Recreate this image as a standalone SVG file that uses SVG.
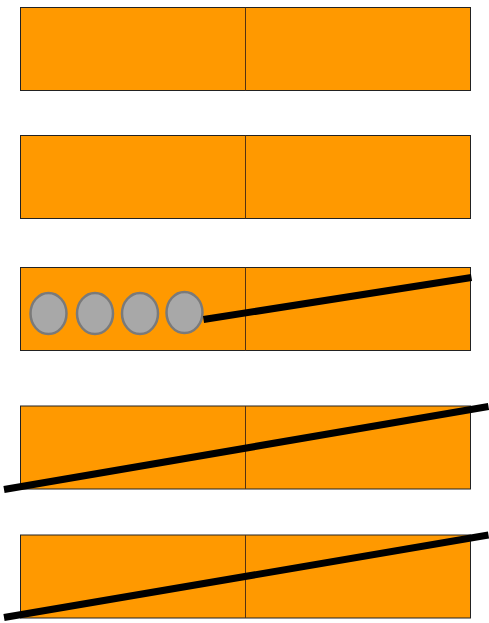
<svg xmlns="http://www.w3.org/2000/svg" width="489" height="623" viewBox="0 0 489 623">
<style>
.box{fill:#ff9900;stroke:#222;stroke-width:1}
.div{stroke:#553311;stroke-width:1}
.ball{fill:#a8a8a8;stroke:#7a7a7a;stroke-width:2.5}
.bar{stroke:#000;stroke-width:7;stroke-linecap:butt;fill:none}
</style>
<rect width="489" height="623" fill="#fff"/>
<g id="row1"><rect class="box" x="20.5" y="7.5" width="450" height="83"/><line class="div" x1="245.5" y1="7.5" x2="245.5" y2="90.5"/></g>
<g id="row2"><rect class="box" x="20.5" y="135.5" width="450" height="83"/><line class="div" x1="245.5" y1="135.5" x2="245.5" y2="218.5"/></g>
<g id="row3"><rect class="box" x="20.5" y="267.5" width="450" height="83"/><line class="div" x1="245.5" y1="267.5" x2="245.5" y2="350.5"/>
<ellipse class="ball" cx="48.5" cy="313.5" rx="18" ry="20.5"/>
<ellipse class="ball" cx="95" cy="313.5" rx="18" ry="20.5"/>
<ellipse class="ball" cx="140" cy="313.5" rx="18" ry="20.5"/>
<ellipse class="ball" cx="184.5" cy="312.5" rx="18" ry="20.5"/>
</g>
<g id="row4"><rect class="box" x="20.5" y="406" width="450" height="83"/><line class="div" x1="245.5" y1="406" x2="245.5" y2="489"/></g>
<g id="row5"><rect class="box" x="20.5" y="535" width="450" height="83"/><line class="div" x1="245.5" y1="535" x2="245.5" y2="618"/></g>
<g id="connectors">
<line class="bar" x1="203.5" y1="319.5" x2="471.5" y2="277.5"/>
<line class="bar" x1="4" y1="489.5" x2="488.5" y2="406.5"/>
<line class="bar" x1="4" y1="617.5" x2="488.5" y2="535"/>
</g>
</svg>
